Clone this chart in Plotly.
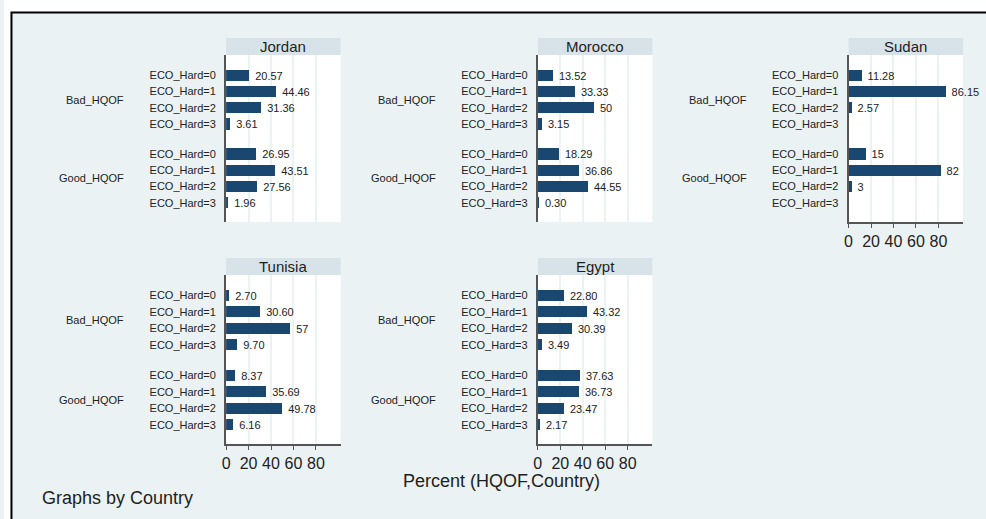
import plotly.graph_objects as go

# ---------------- data ----------------
countries = ["Jordan", "Morocco", "Sudan", "Tunisia", "Egypt"]
groups = ["Bad_HQOF", "Good_HQOF"]
eco_labels = ["ECO_Hard=0", "ECO_Hard=1", "ECO_Hard=2", "ECO_Hard=3"]

jordan_bad = [20.57, 44.46, 31.36, 3.61]
jordan_good = [26.95, 43.51, 27.56, 1.96]
morocco_bad = [13.52, 33.33, 50, 3.15]
morocco_good = [18.29, 36.86, 44.55, 0.30]
sudan_bad = [11.28, 86.15, 2.57, None]
sudan_good = [15, 82, 3, None]
tunisia_bad = [2.70, 30.60, 57, 9.70]
tunisia_good = [8.37, 35.69, 49.78, 6.16]
egypt_bad = [22.80, 43.32, 30.39, 3.49]
egypt_good = [37.63, 36.73, 23.47, 2.17]

x_ticks = [0, 20, 40, 60, 80]
x_title = "Percent (HQOF,Country)"
note_text = "Graphs by Country"

series = {
    "Jordan": (jordan_bad, jordan_good),
    "Morocco": (morocco_bad, morocco_good),
    "Sudan": (sudan_bad, sudan_good),
    "Tunisia": (tunisia_bad, tunisia_good),
    "Egypt": (egypt_bad, egypt_good),
}

# ---------------- layout constants ----------------
W, H = 986, 519
BG = "#eaf2f3"
STRIP = "#d7e3e9"
BAR = "#1a476f"
AXIS = "#555555"
FONT = "Liberation Sans, Arial, sans-serif"
group_step = 4.84          # row-spacing units between group starts
panel_w = 115
# (left px, top px, bottom px, show x axis)
panel_pos = [
    (223, 55, 222, False),
    (536, 55, 222, False),
    (848, 55, 222, True),
    (223, 275, 444, True),
    (536, 275, 444, True),
]


def fx(p):
    return p / W


def fy(p):
    return 1 - p / H


def fmt(v):
    if v is None:
        return ""
    if float(v).is_integer():
        return " %d" % v
    return " %.2f" % v


fig = go.Figure()
shapes = []
annotations = []
layout_axes = {}

n = len(eco_labels)
positions = [i + g * group_step for g in range(len(groups)) for i in range(n)]
tick_text = [lab for g in groups for lab in eco_labels]

for k, country in enumerate(countries):
    idx = k + 1
    xa = "x" if idx == 1 else "x%d" % idx
    ya = "y" if idx == 1 else "y%d" % idx
    left, top, bottom, showx = panel_pos[k]
    vals = [v for grp in series[country] for v in grp]
    fig.add_trace(go.Bar(
        x=vals, y=positions, orientation="h", width=0.68,
        marker=dict(color=BAR, line=dict(width=0)),
        text=[fmt(v) for v in vals], textposition="outside",
        textfont=dict(size=11, color="#222222", family=FONT),
        cliponaxis=False, constraintext="none",
        xaxis=xa, yaxis=ya, showlegend=False, hoverinfo="skip",
    ))
    xkey = "xaxis" if idx == 1 else "xaxis%d" % idx
    ykey = "yaxis" if idx == 1 else "yaxis%d" % idx
    layout_axes[xkey] = dict(
        domain=[fx(left), fx(left + panel_w)], anchor=ya,
        range=[0, 102], tickvals=x_ticks, showgrid=True,
        gridcolor=BG, gridwidth=1.5, zeroline=False,
        showline=showx, linecolor=AXIS, linewidth=1.5,
        ticks="outside" if showx else "", ticklen=4, tickcolor=AXIS,
        showticklabels=showx,
        tickfont=dict(size=16, color="#222222", family=FONT),
        fixedrange=True,
    )
    layout_axes[ykey] = dict(
        domain=[fy(bottom), fy(top)], anchor=xa,
        range=[positions[-1] + 1.17, -1.23],
        tickvals=positions, ticktext=tick_text,
        showgrid=False, zeroline=False,
        showline=True, linecolor=AXIS, linewidth=2,
        ticks="outside", ticklen=6, tickcolor="rgba(0,0,0,0)",
        tickfont=dict(size=11, color="#222222", family=FONT),
        fixedrange=True,
    )
    # strip title
    strip_h = 17
    shapes.append(dict(type="rect", xref="paper", yref="paper",
                       x0=fx(left), x1=fx(left + panel_w),
                       y0=fy(top), y1=fy(top - strip_h),
                       fillcolor=STRIP, line=dict(width=0), layer="above"))
    annotations.append(dict(text=country, xref="paper", yref="paper",
                            x=fx(left + panel_w / 2), y=fy(top - strip_h / 2),
                            xanchor="center", yanchor="middle", showarrow=False,
                            font=dict(size=15, color="#1e1e1e", family=FONT)))
    # group labels
    for g, gname in enumerate(groups):
        gpos = positions[g * n:(g + 1) * n]
        annotations.append(dict(text=gname, xref="%s domain" % xa, yref=ya,
                                x=0, xshift=-100, y=sum(gpos) / len(gpos),
                                xanchor="right", yanchor="middle", showarrow=False,
                                font=dict(size=11, color="#222222", family=FONT)))

# outer frame: white margins at top/left, black border
shapes.append(dict(type="rect", xref="paper", yref="paper", x0=0, x1=1,
                   y0=fy(12), y1=1, fillcolor="white", line=dict(width=0)))
shapes.append(dict(type="rect", xref="paper", yref="paper", x0=0, x1=fx(7),
                   y0=0, y1=1, fillcolor="white", line=dict(width=0)))
shapes.append(dict(type="rect", xref="paper", yref="paper",
                   x0=fx(7.5), x1=1.05, y0=-0.05, y1=fy(12.5),
                   fillcolor="rgba(0,0,0,0)", line=dict(color="black", width=2)))

annotations.append(dict(text=x_title, xref="paper", yref="paper",
                        x=fx(500), y=fy(481), xanchor="center", yanchor="middle",
                        showarrow=False, font=dict(size=18, color="#1e1e1e", family=FONT)))
annotations.append(dict(text=note_text, xref="paper", yref="paper",
                        x=fx(36), y=fy(498), xanchor="left", yanchor="middle",
                        showarrow=False, font=dict(size=18, color="#1e1e1e", family=FONT)))

fig.update_layout(
    width=W, height=H, margin=dict(l=0, r=0, t=0, b=0),
    paper_bgcolor=BG, plot_bgcolor="white",
    shapes=shapes, annotations=annotations,
    bargap=0, showlegend=False,
    **layout_axes,
)

fig.write_html(
    "out.html",
    config={"displayModeBar": False},
    post_script="document.body.style.margin='0';document.body.style.overflow='hidden';",
)
